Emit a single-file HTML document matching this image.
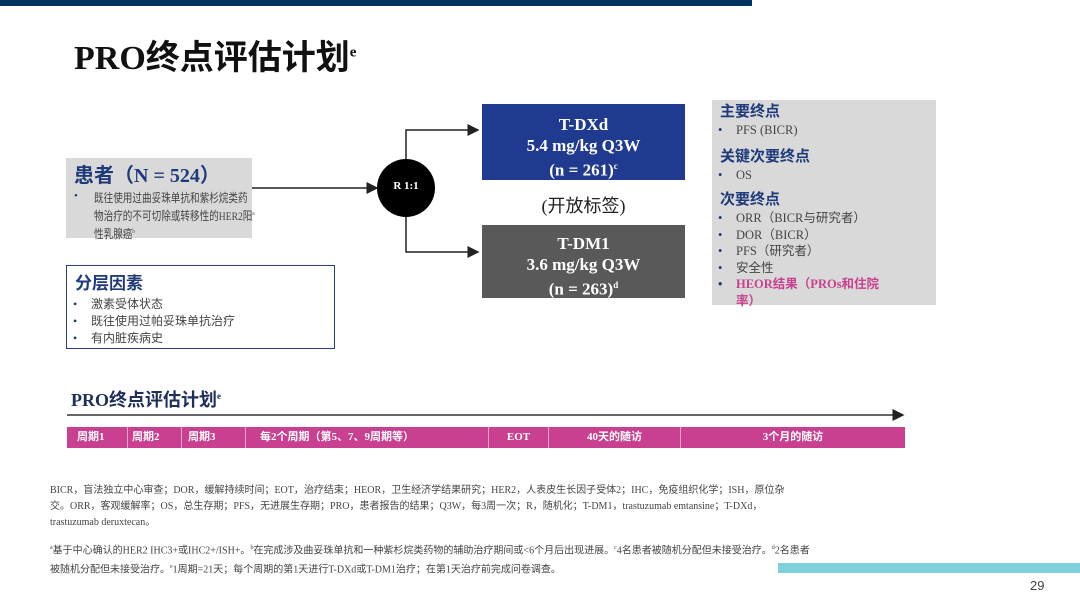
<!DOCTYPE html>
<html><head><meta charset="utf-8"><style>
body{margin:0;width:1080px;height:605px;background:#fff;position:relative;overflow:hidden;font-family:"Liberation Serif","Noto Sans CJK SC",serif;}
.a{position:absolute;}
.cj{font-family:"Liberation Serif","Noto Sans CJK SC",sans-serif;}
ul{margin:0;padding:0;list-style:none;}
li{position:relative;padding-left:24px;}
li:before{content:"•";position:absolute;left:6px;color:#1f3a7a;}
.cell{position:absolute;top:0;height:21px;line-height:21px;color:#fff;font-size:11px;font-weight:bold;border-left:1px solid #e9a6c9;box-sizing:border-box;}
</style></head><body>
<div class="a" style="left:0;top:0;width:752px;height:6px;background:#003360;"></div>
<div class="a cj" style="left:74px;top:30px;font-size:34px;font-weight:bold;color:#111;">PRO终点评估计划<sup style="font-size:15px">e</sup></div>

<div class="a cj" style="left:66px;top:158px;width:186px;height:80px;background:#d9d9d9;">
<div style="color:#1f3a7a;font-size:20px;font-weight:bold;margin:6px 0 0 8px;line-height:24px;">患者（N = 524）</div>
<div style="position:absolute;left:8px;top:32px;color:#1f3a7a;font-size:11px;">•</div>
<div style="position:absolute;left:28px;top:32px;font-size:12px;color:#444;line-height:16px;white-space:nowrap;transform:scaleX(0.8);transform-origin:0 0;">既往使用过曲妥珠单抗和紫杉烷类药<br>物治疗的不可切除或转移性的HER2阳<sup style="font-size:6px">a</sup><br>性乳腺癌<sup style="font-size:6px">b</sup></div></div>

<div class="a cj" style="left:66px;top:265px;width:267px;height:82px;border:1.5px solid #2a3f80;">
<div style="color:#1f3a7a;font-size:17px;font-weight:bold;margin:3px 0 2px 8px;">分层因素</div>
<ul style="font-size:12px;color:#444;line-height:17px;"><li>激素受体状态</li><li>既往使用过帕妥珠单抗治疗</li><li>有内脏疾病史</li></ul></div>

<svg class="a" style="left:0;top:0" width="1080" height="605">
<defs><marker id="m" markerWidth="8" markerHeight="8" refX="7" refY="4" orient="auto"><path d="M0,0L8,4L0,8z" fill="#222"/></marker></defs>
<line x1="252" y1="188" x2="377" y2="188" stroke="#222" stroke-width="1.5" marker-end="url(#m)"/>
<circle cx="406" cy="188" r="29" fill="#000"/>
<polyline points="406,159 406,130 478,130" fill="none" stroke="#222" stroke-width="1.5" marker-end="url(#m)"/>
<polyline points="406,217 406,252 478,252" fill="none" stroke="#222" stroke-width="1.5" marker-end="url(#m)"/>
<line x1="67" y1="415" x2="903" y2="415" stroke="#333" stroke-width="1.5" marker-end="url(#m)"/>
</svg>
<div class="a" style="left:377px;top:180px;width:58px;text-align:center;color:#fff;font-size:11px;font-weight:bold;">R 1:1</div>

<div class="a" style="left:482px;top:104px;width:203px;height:76px;background:#1f3a8f;color:#fff;text-align:center;font-weight:bold;font-size:17px;line-height:21px;padding-top:10px;box-sizing:border-box;">T-DXd<br>5.4 mg/kg Q3W<br>(n = 261)<sup style="font-size:9px">c</sup></div>
<div class="a cj" style="left:482px;top:192px;width:203px;text-align:center;font-size:18px;color:#222;">(开放标签)</div>
<div class="a" style="left:482px;top:225px;width:203px;height:73px;background:#595959;color:#fff;text-align:center;font-weight:bold;font-size:17px;line-height:21px;padding-top:8px;box-sizing:border-box;">T-DM1<br>3.6 mg/kg Q3W<br>(n = 263)<sup style="font-size:9px">d</sup></div>

<div class="a cj" style="left:712px;top:100px;width:224px;height:205px;background:#d9d9d9;font-size:12.5px;color:#444;line-height:16.5px;">
<div style="color:#1f3a7a;font-size:15px;font-weight:bold;margin:2px 0 0 8px;line-height:20px;">主要终点</div>
<ul><li>PFS (BICR)</li></ul>
<div style="color:#1f3a7a;font-size:15px;font-weight:bold;margin:8px 0 0 8px;line-height:20px;">关键次要终点</div>
<ul><li>OS</li></ul>
<div style="color:#1f3a7a;font-size:15px;font-weight:bold;margin:7px 0 0 8px;line-height:20px;">次要终点</div>
<ul><li>ORR（BICR与研究者）</li><li>DOR（BICR）</li><li>PFS（研究者）</li><li>安全性</li><li style="color:#c8408f;font-weight:bold;">HEOR结果（PROs和住院<br>率）</li></ul></div>

<div class="a cj" style="left:71px;top:386px;font-size:18px;font-weight:bold;color:#1f2f5a;">PRO终点评估计划<sup style="font-size:9px">e</sup></div>

<div class="a cj" style="left:67px;top:427px;width:838px;height:21px;background:#c8408f;">
<div class="cell" style="left:0;width:60px;border:none;padding-left:10px;">周期1</div>
<div class="cell" style="left:60px;width:54px;padding-left:4px;">周期2</div>
<div class="cell" style="left:114px;width:64px;padding-left:6px;">周期3</div>
<div class="cell" style="left:178px;width:243px;padding-left:14px;">每2个周期（第5、7、9周期等）</div>
<div class="cell" style="left:421px;width:60px;text-align:center;">EOT</div>
<div class="cell" style="left:481px;width:132px;text-align:center;">40天的随访</div>
<div class="cell" style="left:613px;width:225px;text-align:center;">3个月的随访</div>
</div>

<div class="a cj" style="left:50px;top:483px;width:750px;font-size:10px;line-height:16px;color:#444;">BICR，盲法独立中心审查；DOR，缓解持续时间；EOT，治疗结束；HEOR，卫生经济学结果研究；HER2，人表皮生长因子受体2；IHC，免疫组织化学；ISH，原位杂交。ORR，客观缓解率；OS，总生存期；PFS，无进展生存期；PRO，患者报告的结果；Q3W，每3周一次；R，随机化；T-DM1，trastuzumab emtansine；T-DXd，trastuzumab deruxtecan。</div>
<div class="a cj" style="left:50px;top:540px;width:760px;font-size:10px;line-height:17px;color:#444;"><sup style="font-size:6px">a</sup>基于中心确认的HER2 IHC3+或IHC2+/ISH+。<sup style="font-size:6px">b</sup>在完成涉及曲妥珠单抗和一种紫杉烷类药物的辅助治疗期间或&lt;6个月后出现进展。<sup style="font-size:6px">c</sup>4名患者被随机分配但未接受治疗。<sup style="font-size:6px">d</sup>2名患者被随机分配但未接受治疗。<sup style="font-size:6px">e</sup>1周期=21天；每个周期的第1天进行T-DXd或T-DM1治疗；在第1天治疗前完成问卷调查。</div>

<div class="a" style="left:778px;top:563px;width:302px;height:10px;background:#7fcfdc;"></div>
<div class="a" style="left:1030px;top:578px;font-family:'Liberation Sans',sans-serif;font-size:13px;color:#444;">29</div>
</body></html>
